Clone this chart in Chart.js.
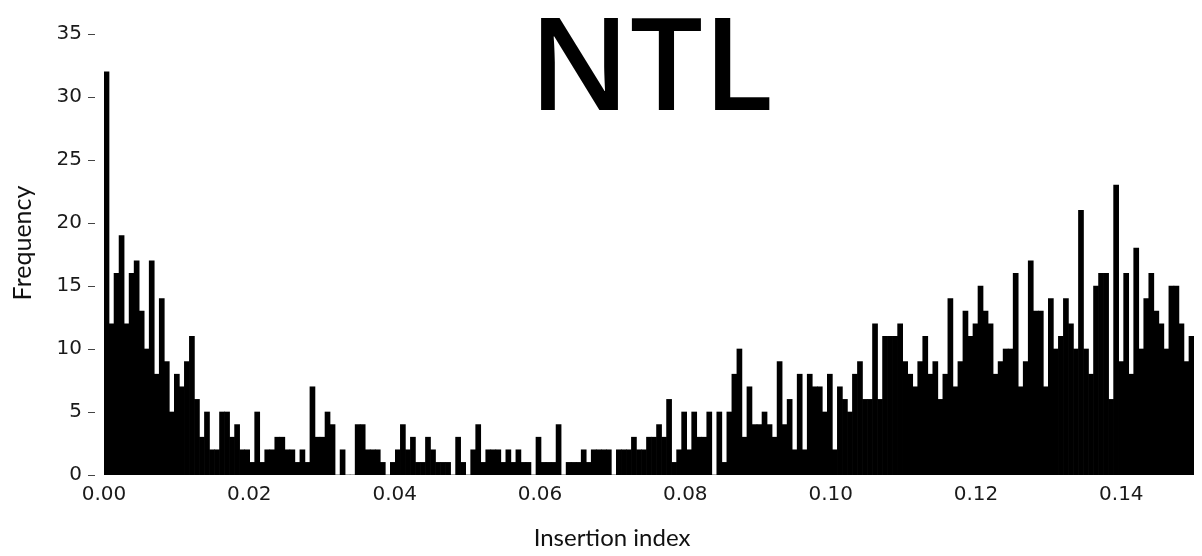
<!DOCTYPE html>
<html><head><meta charset="utf-8">
<script src="https://cdn.jsdelivr.net/npm/chart.js@4/dist/chart.umd.min.js"></script>
<style>html,body{margin:0;padding:0;background:#fff;}#wrap{width:1202px;height:556px;}</style>
</head><body><div id="wrap"><canvas id="c" width="1202" height="556"></canvas></div>
<script>
const chartTitle = "NTL";
const xAxisTitle = "Insertion index";
const yAxisTitle = "Frequency";
// histogram counts per bin, left to right over [0, 0.15]
const frequency = [
  32,12,16,19,12,16,17,13,10,17,
  8,14,9,5,8,7,9,11,6,3,
  5,2,2,5,5,3,4,2,2,1,
  5,1,2,2,3,3,2,2,1,2,
  1,7,3,3,5,4,0,2,0,0,
  4,4,2,2,2,1,0,1,2,4,
  2,3,1,1,3,2,1,1,1,0,
  3,1,0,2,4,1,2,2,2,1,
  2,1,2,1,1,0,3,1,1,1,
  4,0,1,1,1,2,1,2,2,2,
  2,0,2,2,2,3,2,2,3,3,
  4,3,6,1,2,5,2,5,3,3,
  5,0,5,1,5,8,10,3,7,4,
  4,5,4,3,9,4,6,2,8,2,
  8,7,7,5,8,2,7,6,5,8,
  9,6,6,12,6,11,11,11,12,9,
  8,7,9,11,8,9,6,8,14,7,
  9,13,11,12,15,13,12,8,9,10,
  10,16,7,9,17,13,13,7,14,10,
  11,14,12,10,21,10,8,15,16,16,
  6,23,9,16,8,18,10,14,16,13,
  12,10,15,15,12,9,11
];
const binLabels = frequency.map((_, i) => "bin " + (i + 1));
const xRange = [0, 0.15];
const xTickValues = [0, 0.02, 0.04, 0.06, 0.08, 0.10, 0.12, 0.14];
const yRange = [0, 35];
const yTickValues = [0, 5, 10, 15, 20, 25, 30, 35];

const decor = {
  id: 'decor',
  afterDraw(chart) {
    const ctx = chart.ctx, a = chart.chartArea, ys = chart.scales.y;
    ctx.save();
    ctx.strokeStyle = '#444';
    ctx.lineWidth = 1;
    yTickValues.forEach(v => {
      const py = Math.round(ys.getPixelForValue(v)) + 0.5;
      ctx.beginPath(); ctx.moveTo(a.left - 16, py); ctx.lineTo(a.left - 9, py); ctx.stroke();
    });
    ctx.fillStyle = '#000';
    ctx.textAlign = 'center';
    ctx.textBaseline = 'alphabetic';
    ctx.font = '600 129px "Open Sans"';
    ctx.fillText(chartTitle, (a.left + a.right) / 2 + 2, 110);
    ctx.fillStyle = '#111';
    ctx.font = '24px Lato';
    ctx.fillText(xAxisTitle, 612, 546);
    ctx.translate(23, 243);
    ctx.rotate(-Math.PI / 2);
    ctx.textBaseline = 'middle';
    ctx.font = '25px Lato';
    ctx.fillText(yAxisTitle, 0, 0);
    ctx.restore();
  }
};

new Chart(document.getElementById('c'), {
  type: 'bar',
  data: {
    labels: binLabels,
    datasets: [{
      data: frequency,
      backgroundColor: '#000',
      borderWidth: 0,
      barPercentage: 1,
      categoryPercentage: 1,
      xAxisID: 'x',
      yAxisID: 'y'
    }]
  },
  options: {
    responsive: false,
    animation: false,
    devicePixelRatio: 1,
    layout: { padding: { top: 20, right: 8, left: 0, bottom: 0 } },
    plugins: { legend: { display: false }, tooltip: { enabled: false }, title: { display: false } },
    scales: {
      x: { type: 'category', display: false, offset: true, grid: { display: false } },
      xv: {
        type: 'linear', position: 'bottom', min: xRange[0], max: xRange[1], offset: false,
        afterBuildTicks: s => { s.ticks = xTickValues.map(v => ({ value: v })); },
        ticks: { callback: v => Number(v).toFixed(2), font: { family: 'DejaVu Sans', size: 20 }, color: '#1a1a1a', padding: 8, maxRotation: 0, autoSkip: false },
        grid: { display: false, drawTicks: false, offset: false },
        border: { display: false },
        afterFit: s => { s.height = 81; }
      },
      y: {
        min: yRange[0], max: yRange[1],
        afterBuildTicks: s => { s.ticks = yTickValues.map(v => ({ value: v })); },
        ticks: { font: { family: 'DejaVu Sans', size: 20 }, color: '#1a1a1a', padding: 22, autoSkip: false },
        grid: { display: false, drawTicks: false },
        border: { display: false },
        afterFit: s => { s.width = 104; }
      }
    }
  },
  plugins: [decor]
});
</script>
</body></html>
